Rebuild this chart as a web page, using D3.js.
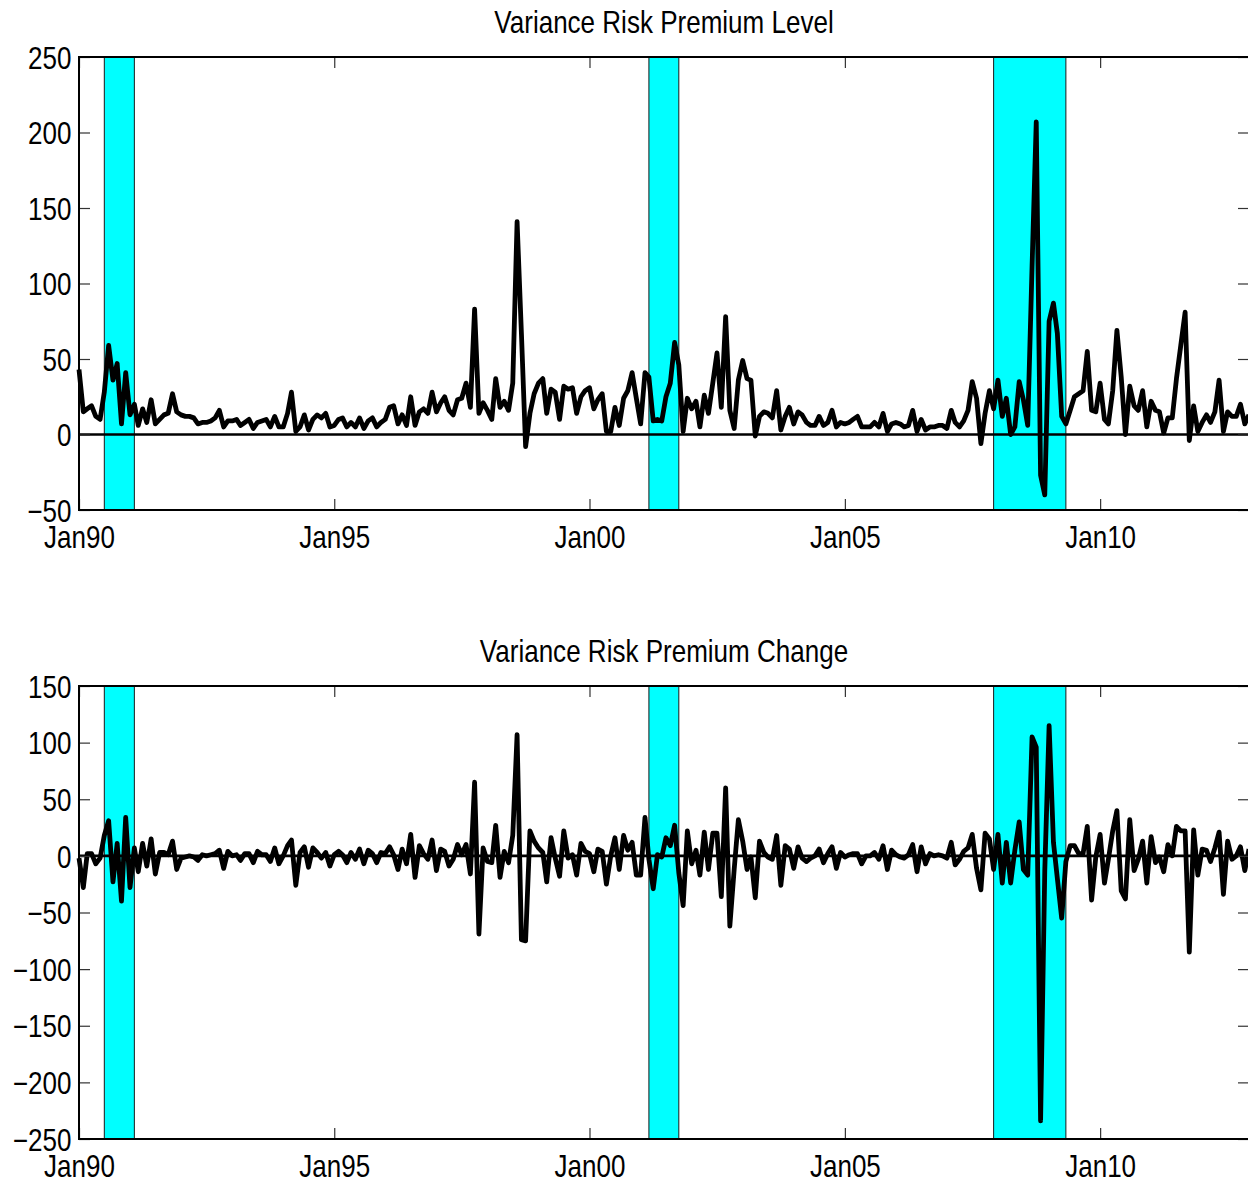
<!DOCTYPE html>
<html>
<head>
<meta charset="utf-8">
<title>Variance Risk Premium</title>
<script src="https://d3js.org/d3.v7.min.js"></script>
<style>
  body { margin: 0; background: #fff; }
  svg text { font-family: "Liberation Sans", Arial, Helvetica, sans-serif; fill: #000; }
</style>
</head>
<body>
<svg id="chart" width="1248" height="1184"></svg>
<script>
// monthly observations, jan 1990 to dec 2012
const firstMonth = "1990-01"
const lastMonth = "2012-12"

// variance risk premium level
const vrpLevel = [
  43,15,17,19,12,10,28,59,36,47,
  7,41,13,20,6,17,8,23,7,10,
  13,14,27,15,13,12,12,11,7,8,
  8,9,11,16,5,9,9,10,6,8,
  10,4,8,9,10,5,12,5,5,14,
  28,2,5,13,3,10,13,11,14,5,
  6,10,11,5,8,5,11,4,9,11,
  5,8,10,18,19,7,13,6,25,6,
  15,17,14,28,15,21,25,16,13,23,
  24,34,18,83,14,21,16,10,37,18,
  22,16,34,141,67,-8,14,27,34,37,
  14,30,28,10,32,30,31,14,25,29,
  31,17,23,27,2,2,18,6,24,29,
  41,24,7,41,38,9,10,9,25,34,
  61,46,2,24,17,22,5,26,14,34,
  54,18,78,16,4,36,49,37,36,-1,
  12,15,14,11,29,3,12,18,7,15,
  13,8,6,6,12,6,8,16,5,8,
  7,8,10,12,5,5,5,8,5,14,
  2,7,8,7,5,6,16,2,10,3,
  5,5,6,6,4,16,8,5,9,16,
  35,24,-6,14,29,17,36,12,24,0,
  5,35,23,6,111,207,-27,-40,75,87,
  67,12,7,16,25,27,29,55,16,15,
  34,10,7,29,69,38,0,32,19,16,
  29,5,22,16,15,1,11,11,37,59,
  81,-4,19,2,8,13,8,15,36,2,
  15,12,12,20,7,13
]

// month on month change (bottom panel)
const vrpChange = [
  -2,-28,2,2,-7,-2,18,31,-23,11,
  -40,34,-28,7,-14,11,-9,15,-16,3,
  3,1,13,-12,-2,-1,0,-1,-4,1,
  0,1,2,5,-11,4,0,1,-4,2,
  2,-6,4,1,1,-5,7,-7,0,9,
  14,-26,3,8,-10,7,3,-2,3,-9,
  1,4,1,-6,3,-3,6,-7,5,2,
  -6,3,2,8,1,-12,6,-7,19,-19,
  9,2,-3,14,-13,6,4,-9,-3,10,
  1,10,-16,65,-69,7,-5,-6,27,-19,
  4,-6,18,107,-74,-75,22,13,7,3,
  -23,16,-2,-18,22,-2,1,-17,11,4,
  2,-14,6,4,-25,0,16,-12,18,5,
  12,-17,-17,34,-3,-29,1,-1,16,9,
  27,-15,-44,22,-7,5,-17,21,-12,20,
  20,-36,60,-62,-12,32,13,-12,-1,-37,
  13,3,-1,-3,18,-26,9,6,-11,8,
  -2,-5,-2,0,6,-6,2,8,-11,3,
  -1,1,2,2,-7,0,0,3,-3,9,
  -12,5,1,-1,-2,1,10,-14,8,-7,
  2,0,1,0,-2,12,-8,-3,4,7,
  19,-11,-30,20,15,-12,19,-24,12,-24,
  5,30,-12,-17,105,96,-234,-13,115,12,
  -20,-55,-5,9,9,2,2,26,-39,-1,
  19,-24,-3,22,40,-31,-38,32,-13,-3,
  13,-24,17,-6,-1,-14,10,0,26,22,
  22,-85,23,-17,6,5,-5,7,21,-34,
  13,-3,0,8,-13,6
]

// recession shading, start month / end month
const recessions = [["1990-07", "1991-02"], ["2001-03", "2001-10"], ["2007-12", "2009-05"]]

const xTickMonths = ["1990-01", "1995-01", "2000-01", "2005-01", "2010-01"]
const xTickLabels = ["Jan90", "Jan95", "Jan00", "Jan05", "Jan10"]
const levelTicks = [-50, 0, 50, 100, 150, 200, 250]
const changeTicks = [-250, -200, -150, -100, -50, 0, 50, 100, 150]
const titles = ["Variance Risk Premium Level", "Variance Risk Premium Change"]

const parseMonth = d3.timeParse("%Y-%m")
const months = d3.timeMonth.range(parseMonth(firstMonth), d3.timeMonth.offset(parseMonth(lastMonth), 1))

// the axes box runs a little past the right edge of the picture, like the original
const box = { left: 79, right: 1249 }
const tickLen = 11
const fontSize = 31
// matlab's helvetica comes out narrower than liberation sans, so squeeze text a bit
const squeeze = "scale(0.84,1)"

const panels = [
  { title: titles[0], values: vrpLevel, ticks: levelTicks, domain: [-50, 250], top: 57, bottom: 510 },
  { title: titles[1], values: vrpChange, ticks: changeTicks, domain: [-250, 150], top: 686, bottom: 1139 }
]

const svg = d3.select("#chart")
svg.append("rect").attr("width", 1248).attr("height", 1184).attr("fill", "#fff")

const x = d3.scaleTime()
  .domain([parseMonth(firstMonth), parseMonth(lastMonth)])
  .range([box.left, box.right])

const minus = d => d < 0 ? "\u2212" + Math.abs(d) : String(d)

panels.forEach(p => {
  const y = d3.scaleLinear().domain(p.domain).range([p.bottom, p.top])
  const g = svg.append("g")

  // recession bars
  g.selectAll(".rec")
    .data(recessions)
    .enter()
    .append("rect")
    .attr("class", "rec")
    .attr("x", d => x(parseMonth(d[0])))
    .attr("y", p.top)
    .attr("width", d => x(parseMonth(d[1])) - x(parseMonth(d[0])))
    .attr("height", p.bottom - p.top)
    .attr("fill", "#00ffff")
    .attr("stroke", "#1a1a1a")
    .attr("stroke-width", 1)

  // zero line
  g.append("line")
    .attr("x1", box.left).attr("x2", box.right)
    .attr("y1", y(0)).attr("y2", y(0))
    .attr("stroke", "#000")
    .attr("stroke-width", 2.6)

  const line = d3.line()
    .x((d, i) => x(months[i]))
    .y(d => y(d))

  g.append("path")
    .datum(p.values)
    .attr("d", line)
    .attr("fill", "none")
    .attr("stroke", "#000")
    .attr("stroke-width", 4.8)
    .attr("stroke-linejoin", "round")

  // ticks on all four sides, pointing inward
  const xTickDates = xTickMonths.map(parseMonth)
  const bottomAxis = d3.axisBottom(x)
    .tickValues(xTickDates)
    .tickFormat((d, i) => xTickLabels[i])
    .tickSizeInner(-tickLen)
    .tickSizeOuter(0)
    .tickPadding(16)
  const topAxis = d3.axisTop(x).tickValues(xTickDates).tickFormat("").tickSizeInner(-tickLen).tickSizeOuter(0)
  const leftAxis = d3.axisLeft(y)
    .tickValues(p.ticks)
    .tickFormat(minus)
    .tickSizeInner(-tickLen)
    .tickSizeOuter(0)
    .tickPadding(9)
  const rightAxis = d3.axisRight(y).tickValues(p.ticks).tickFormat("").tickSizeInner(-tickLen).tickSizeOuter(0)

  const axes = [
    [bottomAxis, "translate(0," + p.bottom + ")"],
    [topAxis, "translate(0," + p.top + ")"],
    [leftAxis, "translate(" + box.left + ",0)"],
    [rightAxis, "translate(" + box.right + ",0)"]
  ]
  axes.forEach(a => {
    const ax = g.append("g").attr("transform", a[1]).call(a[0])
    ax.select(".domain").remove()
    ax.selectAll(".tick line").attr("stroke", "#333").attr("stroke-width", 1.2)
    ax.selectAll(".tick text")
      .attr("font-size", fontSize)
      .attr("fill", "#000")
      .attr("transform", squeeze)
  })
  g.selectAll("text").filter(function () { return this.getAttribute("dy") === "0.32em" }).attr("dy", "0.36em")

  // axes box (top, left, bottom; the right side is past the edge)
  g.append("rect")
    .attr("x", box.left).attr("y", p.top)
    .attr("width", box.right - box.left).attr("height", p.bottom - p.top)
    .attr("fill", "none")
    .attr("stroke", "#000")
    .attr("stroke-width", 2)

  g.append("g")
    .attr("transform", "translate(" + (box.left + box.right) / 2 + "," + (p.top - 24) + ")")
    .append("text")
    .attr("text-anchor", "middle")
    .attr("font-size", fontSize)
    .attr("transform", squeeze)
    .text(p.title)
})
</script>
</body>
</html>
